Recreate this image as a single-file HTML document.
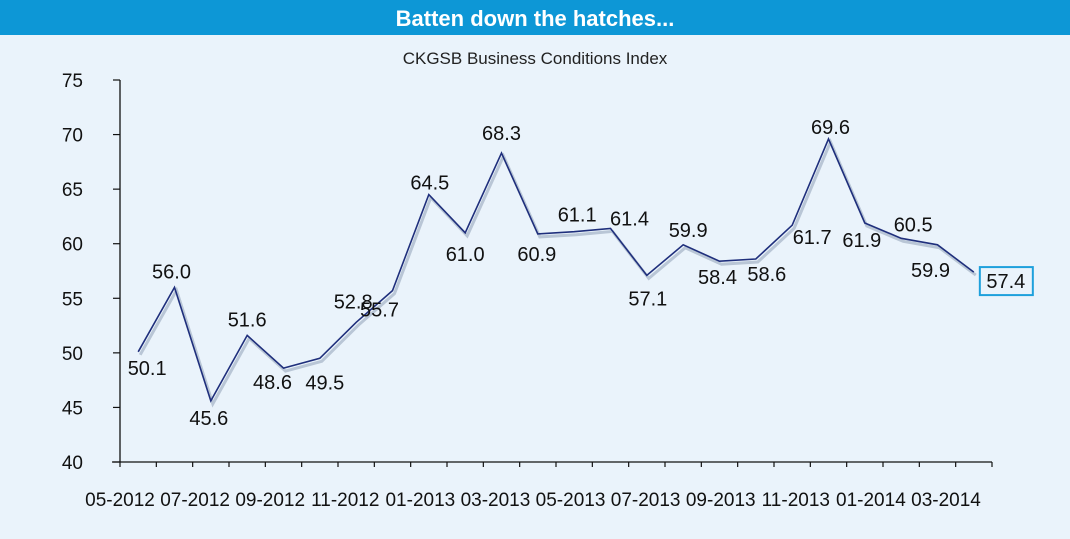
<!DOCTYPE html>
<html><head><meta charset="utf-8"><style>
body{margin:0;background:#eaf3fb;width:1070px;height:534px;overflow:hidden;font-family:"Liberation Sans Narrow","Liberation Sans",sans-serif}
</style></head><body>
<svg width="1070" height="534" xmlns="http://www.w3.org/2000/svg">
<rect x="0" y="0" width="1070" height="534" fill="#eaf3fb"/>
<rect x="0" y="0" width="1070" height="35" fill="#0d97d6"/>
<text x="535" y="26" text-anchor="middle" fill="#fff" font-size="22" font-weight="bold" font-family="Liberation Sans Narrow, Liberation Sans, sans-serif">Batten down the hatches...</text>
<text x="535" y="64" text-anchor="middle" fill="#222" font-size="17" font-family="Liberation Sans, sans-serif">CKGSB Business Conditions Index</text>
<g id="plot"></g>
</svg>
<script>
const categories=["05-2012","06-2012","07-2012","08-2012","09-2012","10-2012","11-2012","12-2012","01-2013","02-2013","03-2013","04-2013","05-2013","06-2013","07-2013","08-2013","09-2013","10-2013","11-2013","12-2013","01-2014","02-2014","03-2014","04-2014"];
const values=[50.1,56.0,45.6,51.6,48.6,49.5,52.8,55.7,64.5,61.0,68.3,60.9,61.1,61.4,57.1,59.9,58.4,58.6,61.7,69.6,61.9,60.5,59.9,57.4];
const yTicks=[40,45,50,55,60,65,70,75];
const xTickLabels=["05-2012","07-2012","09-2012","11-2012","01-2013","03-2013","05-2013","07-2013","09-2013","11-2013","01-2014","03-2014"];
const labelDx=[9,-3,-2,0,-11,5,-3,-13,1,0,0,-1,3,19,1,5,-2,11,20,2,-3,12,-7,32];
const labelDy=[16,-16,17,-16,14,24,-21,19,-12,21,-20,20,-17,-10,23,-15,16,15,12,-12,17,-14,25,9];

const NS="http://www.w3.org/2000/svg";
const g=document.getElementById('plot');
const X0=120,X1=992,Y0=462,Y1=80,YMIN=40,YMAX=75;
const step=(X1-X0)/categories.length;
const xPos=i=>X0+step*(i+0.5);
const yPos=v=>Y0-(v-YMIN)/(YMAX-YMIN)*(Y0-Y1);
function mk(t,a){const e=document.createElementNS(NS,t);for(const k in a)e.setAttribute(k,a[k]);g.appendChild(e);return e;}
const font='"Liberation Sans Narrow","Liberation Sans",sans-serif';

let e=mk('line',{x1:X0,y1:Y1,x2:X0,y2:Y0,stroke:'#111','stroke-width':1.3});


e=mk('line',{x1:X0-8,y1:Y0,x2:X1,y2:Y0,stroke:'#111','stroke-width':1.3});


yTicks.forEach(v=>{
  const y=yPos(v);
  let t=mk('line',{x1:X0-7,y1:y,x2:X0,y2:y,stroke:'#111','stroke-width':1.2});
  
  
  let l=mk('text',{x:83,y:y+7,'text-anchor':'end','font-size':19,'font-family':font,fill:'#111'});
  l.textContent=v;
  
  
});
for(let i=0;i<=categories.length;i++){
  const x=X0+step*i;
  let t=mk('line',{x1:x,y1:Y0,x2:x,y2:Y0+5,stroke:'#111','stroke-width':1.2});
  
  
}
const lblStep=(946-120)/(xTickLabels.length-1);
xTickLabels.forEach((s,i)=>{
  let l=mk('text',{x:120+lblStep*i,y:506,'text-anchor':'middle','font-size':19,'font-family':font,fill:'#111'});
  l.textContent=s;
  
  
});
const pts=values.map((v,i)=>xPos(i).toFixed(1)+','+yPos(v).toFixed(1)).join(' ');
e=mk('polyline',{points:pts,fill:'none',stroke:'#b9c6d6','stroke-width':3,transform:'translate(2,3)'});


e=mk('polyline',{points:pts,fill:'none',stroke:'#1f2f7c','stroke-width':1.6});


values.forEach((v,i)=>{
  const x=xPos(i)+labelDx[i],y=yPos(v)+labelDy[i];
  if(i===values.length-1){
    let b=mk('rect',{x:x-26,y:y-14,width:53,height:28,fill:'none',stroke:'#1ea0dc','stroke-width':2});
    
    
  }
  let l=mk('text',{x:x,y:y+7,'text-anchor':'middle','font-size':20,'font-family':font,fill:'#111'});
  l.textContent=v.toFixed(1);
  
  
});
</script>
</body></html>
